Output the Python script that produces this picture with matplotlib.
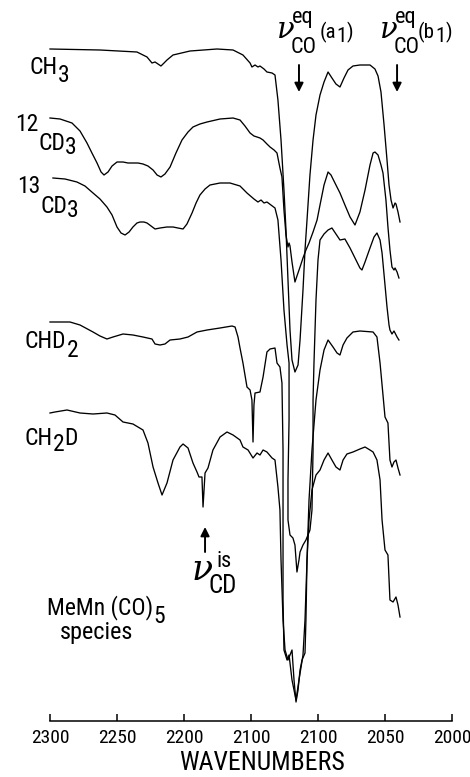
import matplotlib
matplotlib.use('Agg')
import matplotlib.pyplot as plt

plt.rcParams['font.family'] = ['DejaVu Sans Condensed', 'Roboto Condensed', 'Roboto', 'DejaVu Sans']

# wavenumber (cm-1) / transmittance (arbitrary units, traces offset)
ch3_wn = [2300.0, 2262.7, 2235.1, 2227.6, 2223.9, 2221.6, 2219.4, 2217.2, 2214.9, 2212.7,
          2208.2, 2195.5, 2175.4, 2163.4, 2156.0, 2150.7, 2149.3, 2147.0, 2144.8, 2143.3,
          2140.3, 2138.1, 2134.3, 2132.1, 2129.9, 2127.6, 2125.4, 2123.9, 2122.4, 2120.9,
          2119.4, 2117.2, 2114.9, 2113.4, 2111.2, 2109.7, 2108.2, 2106.0, 2103.7, 2101.5,
          2098.5, 2095.5, 2092.5, 2089.6, 2086.6, 2083.6, 2080.6, 2077.6, 2073.9, 2068.7,
          2061.2, 2057.5, 2055.2, 2053.0, 2050.7, 2048.5, 2047.0, 2045.5, 2044.0, 2042.5,
          2041.8, 2040.3, 2038.8]
ch3_t = [67.2, 67.1, 66.9, 66.4, 65.8, 65.9, 65.7, 65.5, 65.8, 66.1,
         66.6, 67.0, 67.2, 67.1, 66.6, 65.8, 65.4, 65.6, 65.4, 65.5,
         65.2, 64.9, 64.8, 64.6, 62.1, 58.1, 53.1, 49.1, 44.1, 39.1,
         36.1, 34.9, 35.6, 38.1, 43.1, 47.1, 50.1, 54.6, 58.1, 60.6,
         62.6, 63.9, 64.9, 64.3, 63.7, 63.4, 64.3, 65.1, 65.5, 65.6,
         65.6, 65.2, 64.5, 62.9, 59.6, 56.1, 53.6, 52.1, 51.3, 51.8,
         51.7, 50.9, 49.9]

cd3_12_wn = [2300.0, 2292.5, 2283.6, 2277.6, 2272.4, 2268.7, 2264.9, 2261.9, 2259.7, 2256.7,
             2253.7, 2250.0, 2245.5, 2241.8, 2238.1, 2234.3, 2230.6, 2226.9, 2223.1, 2220.1,
             2217.2, 2214.2, 2210.4, 2206.0, 2201.5, 2197.0, 2193.3, 2188.1, 2182.8, 2173.1,
             2163.4, 2158.2, 2154.5, 2150.7, 2147.8, 2145.5, 2143.3, 2141.0, 2138.1, 2135.8,
             2132.8, 2130.6, 2128.4, 2126.9, 2125.4, 2123.9, 2122.4, 2121.6, 2120.9, 2119.4,
             2117.2, 2115.7, 2113.4, 2111.2, 2109.0, 2106.7, 2103.7, 2100.7, 2098.5, 2095.5,
             2092.5, 2090.3, 2086.6, 2083.6, 2079.9, 2076.1, 2072.4, 2068.7, 2064.9, 2061.2,
             2058.9, 2057.5, 2055.2, 2053.0, 2051.5, 2049.3, 2047.8, 2046.3, 2044.8, 2043.3,
             2042.5, 2041.0, 2039.6]
cd3_12_t = [60.3, 60.2, 59.8, 59.0, 57.8, 56.8, 55.8, 54.9, 54.6, 54.9,
            55.5, 55.9, 55.9, 55.8, 55.8, 55.8, 55.7, 55.5, 55.1, 54.6,
            54.4, 54.7, 55.4, 56.8, 58.1, 58.9, 59.4, 59.7, 59.9, 60.2,
            60.3, 60.1, 59.5, 58.8, 58.5, 58.4, 58.3, 58.1, 57.7, 57.4,
            57.1, 56.8, 55.3, 54.4, 51.1, 48.6, 47.4, 47.8, 47.5, 45.9,
            43.9, 44.5, 45.4, 46.3, 47.1, 47.8, 48.9, 50.1, 51.6, 53.6,
            54.9, 54.6, 53.6, 52.8, 51.6, 50.4, 49.6, 50.9, 53.1, 55.6,
            56.8, 56.9, 56.6, 55.6, 54.8, 52.1, 49.4, 47.1, 45.4, 45.1,
            45.3, 44.9, 44.3]

cd3_13_wn = [2297.8, 2288.8, 2279.9, 2273.9, 2267.9, 2262.7, 2257.5, 2253.7, 2250.0, 2247.0,
             2244.0, 2241.0, 2238.1, 2235.1, 2232.8, 2229.9, 2227.6, 2224.6, 2221.6, 2217.9,
             2212.7, 2208.2, 2204.5, 2200.7, 2197.8, 2194.0, 2191.0, 2188.1, 2184.3, 2180.6,
             2173.1, 2165.7, 2158.2, 2153.0, 2147.8, 2144.8, 2142.5, 2140.3, 2138.1, 2135.1,
             2132.1, 2129.9, 2127.6, 2125.4, 2123.1, 2121.6, 2121.6, 2122.4, 2122.4, 2120.9,
             2118.7, 2117.2, 2115.7, 2114.2, 2113.4, 2111.2, 2109.0, 2106.0, 2104.5, 2103.7,
             2103.7, 2103.0, 2101.5, 2100.0, 2098.5, 2095.5, 2092.5, 2089.6, 2086.6, 2083.6,
             2079.9, 2076.1, 2072.4, 2068.7, 2067.2, 2064.9, 2061.2, 2058.2, 2056.0, 2053.7,
             2052.2, 2050.0, 2048.5, 2047.0, 2046.3, 2044.8, 2043.3, 2042.5, 2041.0, 2039.6]
cd3_13_t = [54.3, 54.2, 53.9, 53.5, 52.8, 52.2, 51.4, 50.6, 49.4, 48.8,
            48.6, 48.9, 49.4, 49.8, 49.9, 49.9, 49.8, 49.5, 49.2, 49.3,
            49.4, 49.4, 49.3, 49.2, 49.7, 50.8, 51.8, 52.6, 53.2, 53.6,
            53.8, 53.8, 53.5, 52.8, 52.2, 51.9, 52.1, 51.8, 51.9, 51.6,
            51.3, 50.1, 46.1, 41.1, 37.6, 35.8, 30.1, 24.1, 20.1, 18.6,
            18.3, 17.6, 14.9, 16.1, 16.9, 17.6, 18.1, 19.1, 21.1, 27.1,
            32.1, 35.8, 42.1, 46.1, 48.1, 48.7, 49.1, 49.3, 48.7, 48.1,
            48.2, 47.3, 46.3, 45.3, 45.1, 45.9, 47.3, 48.4, 48.8, 48.1,
            46.8, 43.6, 41.4, 39.6, 39.1, 38.7, 39.0, 38.8, 38.4, 38.1]

chd2_wn = [2300.0, 2285.1, 2277.6, 2267.9, 2262.7, 2257.5, 2253.0, 2245.5, 2238.1, 2230.6,
           2223.9, 2221.6, 2217.9, 2214.2, 2210.4, 2203.0, 2197.0, 2190.3, 2182.8, 2173.1,
           2164.2, 2161.9, 2159.7, 2158.2, 2156.0, 2153.0, 2150.7, 2149.3, 2148.5, 2147.8,
           2147.0, 2143.3, 2141.0, 2138.1, 2135.8, 2132.1, 2130.6, 2128.4, 2126.9, 2126.1,
           2126.1, 2126.1, 2125.4, 2123.1, 2121.6, 2119.4, 2116.4, 2114.2, 2111.2, 2109.7,
           2108.2, 2106.7, 2104.5, 2101.5, 2098.5, 2095.5, 2092.5, 2088.8, 2085.8, 2083.6,
           2081.3, 2078.4, 2073.9, 2068.7, 2058.9, 2056.0, 2053.7, 2051.5, 2050.0, 2047.8,
           2046.3, 2044.8, 2043.3, 2041.8, 2040.3, 2038.8]
chd2_t = [39.9, 39.9, 39.6, 38.9, 38.5, 38.2, 38.4, 38.7, 38.6, 38.4,
          38.2, 37.7, 37.6, 37.7, 38.1, 38.2, 38.4, 38.9, 39.1, 39.3,
          39.5, 39.4, 38.4, 37.3, 35.8, 33.4, 33.1, 32.1, 27.9, 31.6,
          32.8, 32.9, 34.4, 36.9, 37.2, 37.3, 35.8, 35.4, 33.8, 27.1,
          20.1, 12.1, 7.1, 6.1, 6.6, 4.1, 2.1, 4.1, 6.6, 10.1,
          16.1, 22.1, 27.1, 32.1, 35.1, 37.1, 38.1, 37.4, 36.8, 36.6,
          37.6, 38.3, 38.9, 39.0, 38.9, 38.4, 35.8, 32.6, 30.4, 29.8,
          26.1, 25.4, 25.9, 26.1, 25.3, 24.6]

ch2d_wn = [2300.0, 2296.3, 2287.3, 2277.6, 2267.9, 2257.5, 2251.5, 2245.5, 2238.1, 2230.6,
           2226.9, 2223.1, 2219.4, 2216.4, 2212.7, 2208.2, 2203.0, 2200.7, 2197.0, 2193.3,
           2190.3, 2188.8, 2186.6, 2185.8, 2184.3, 2182.1, 2178.4, 2173.1, 2167.9, 2163.4,
           2158.2, 2156.0, 2152.2, 2148.5, 2145.5, 2143.3, 2141.0, 2138.1, 2134.3, 2132.1,
           2129.9, 2128.4, 2127.6, 2126.1, 2124.6, 2122.4, 2120.9, 2119.4, 2117.9, 2116.4,
           2114.9, 2113.4, 2111.9, 2109.7, 2109.0, 2108.2, 2106.7, 2104.5, 2101.5, 2098.5,
           2095.5, 2092.5, 2089.6, 2086.6, 2083.6, 2081.3, 2078.4, 2073.9, 2068.7, 2064.9,
           2061.2, 2058.9, 2056.0, 2053.7, 2052.2, 2050.0, 2047.8, 2046.3, 2044.0, 2041.8,
           2040.3, 2038.8]
ch2d_t = [30.8, 30.9, 31.1, 30.8, 30.7, 30.8, 30.6, 29.9, 29.7, 29.1,
          27.8, 25.4, 23.8, 22.6, 23.8, 26.1, 27.4, 27.7, 27.3, 25.8,
          24.9, 24.4, 24.4, 21.4, 24.8, 25.3, 27.1, 28.4, 28.9, 28.6,
          28.1, 27.4, 27.1, 26.3, 26.8, 26.6, 27.1, 26.9, 26.3, 26.1,
          23.4, 21.1, 16.1, 10.1, 7.1, 6.1, 6.6, 7.1, 4.1, 1.9,
          3.1, 5.1, 6.1, 6.8, 10.1, 16.1, 20.1, 23.1, 24.6, 25.1,
          26.1, 26.8, 26.1, 25.4, 25.1, 26.1, 26.7, 26.9, 27.2, 27.4,
          27.1, 26.9, 26.1, 24.1, 20.1, 17.1, 16.6, 12.1, 11.9, 12.4,
          11.6, 10.4]

tick_pos = [2300, 2250, 2200, 2150, 2100, 2050, 2000]
tick_text = ['2300', '2250', '2200', '2100', '2100', '2050', '2000']

# band positions marked with arrows
a1_band = 2114.2
b1_band = 2041.0
cd_band = 2184.3

W, H = 470, 777
fig = plt.figure(figsize=(W / 100, H / 100), dpi=100)
ax = fig.add_axes([50 / W, 56 / H, 402 / W, 721 / H])

for wn, t in [(ch3_wn, ch3_t), (cd3_12_wn, cd3_12_t), (cd3_13_wn, cd3_13_t),
              (chd2_wn, chd2_t), (ch2d_wn, ch2d_t)]:
    ax.plot(wn, t, color='black', lw=0.95, clip_on=False)

ax.set_xlim(2300, 2000)
ax.set_ylim(0, 72.1)
ax.set_xticks(tick_pos)
ax.set_xticklabels(tick_text, fontsize=14)
ax.tick_params(axis='x', direction='in', length=5, width=1.1, pad=6)
ax.set_yticks([])
for side in ['left', 'right', 'top']:
    ax.spines[side].set_visible(False)
ax.spines['bottom'].set_linewidth(1.1)
ax.patch.set_alpha(0)
ax.set_xlabel('WAVENUMBERS', fontsize=18.5, labelpad=2.5, x=0.527)


def put(x, y, s, size=17, **kw):
    return fig.text(x / W, 1 - y / H, s, fontsize=size, ha='left', va='baseline', **kw)


def chain(x, y, parts, size=17):
    # pieces written one after another, each shifted down by dy pixels
    prev = put(x, y, parts[0][0], size)
    for s, dy in parts[1:]:
        prev = ax.annotate(s, xy=(1, 0), xycoords=prev, xytext=(0, -dy),
                           textcoords='offset pixels', fontsize=size,
                           va='bottom', ha='left', annotation_clip=False)


chain(30, 74, [('CH', 0), ('3', 8)])
chain(15, 131, [('12', 0), ('CD', 19), ('3', 4)])
chain(17, 193, [('13', 0), ('CD', 20), ('3', 4)])
chain(25, 348, [('CHD', 0), ('2', 9)])
chain(25, 445, [('CH', 0), ('2', 6), ('D', -6)])
chain(47, 614, [('MeMn (CO)', 0), ('5', 8)])
put(60, 639, 'species', 17.5)

# nu labels
nu = dict(family='DejaVu Serif', style='italic')
for x0 in (277, 380):
    put(x0, 38, 'ν', 21, **nu)
    put(x0 + 15, 23, 'eq', 16)
    put(x0 + 14, 53, 'CO', 16)
chain(320, 38, [('(a', 0), ('1', 3), (')', -3)], size=15)
chain(418, 38, [('(b', 0), ('1', 3), (')', -3)], size=15)
put(192, 580, 'ν', 25, **nu)
put(217, 567, 'is', 16)
put(208, 593, 'CD', 18)

arrow = dict(arrowstyle='-|>', color='black', lw=1.4, mutation_scale=13,
             shrinkA=0, shrinkB=0)
for band in (a1_band, b1_band):
    ax.annotate('', xy=(band, 1 - 92 / H), xytext=(band, 1 - 65 / H),
                xycoords=('data', 'figure fraction'), arrowprops=arrow,
                annotation_clip=False)
ax.annotate('', xy=(cd_band, 1 - 527 / H), xytext=(cd_band, 1 - 552 / H),
            xycoords=('data', 'figure fraction'), arrowprops=arrow,
            annotation_clip=False)

fig.savefig('out.png', dpi=100)
